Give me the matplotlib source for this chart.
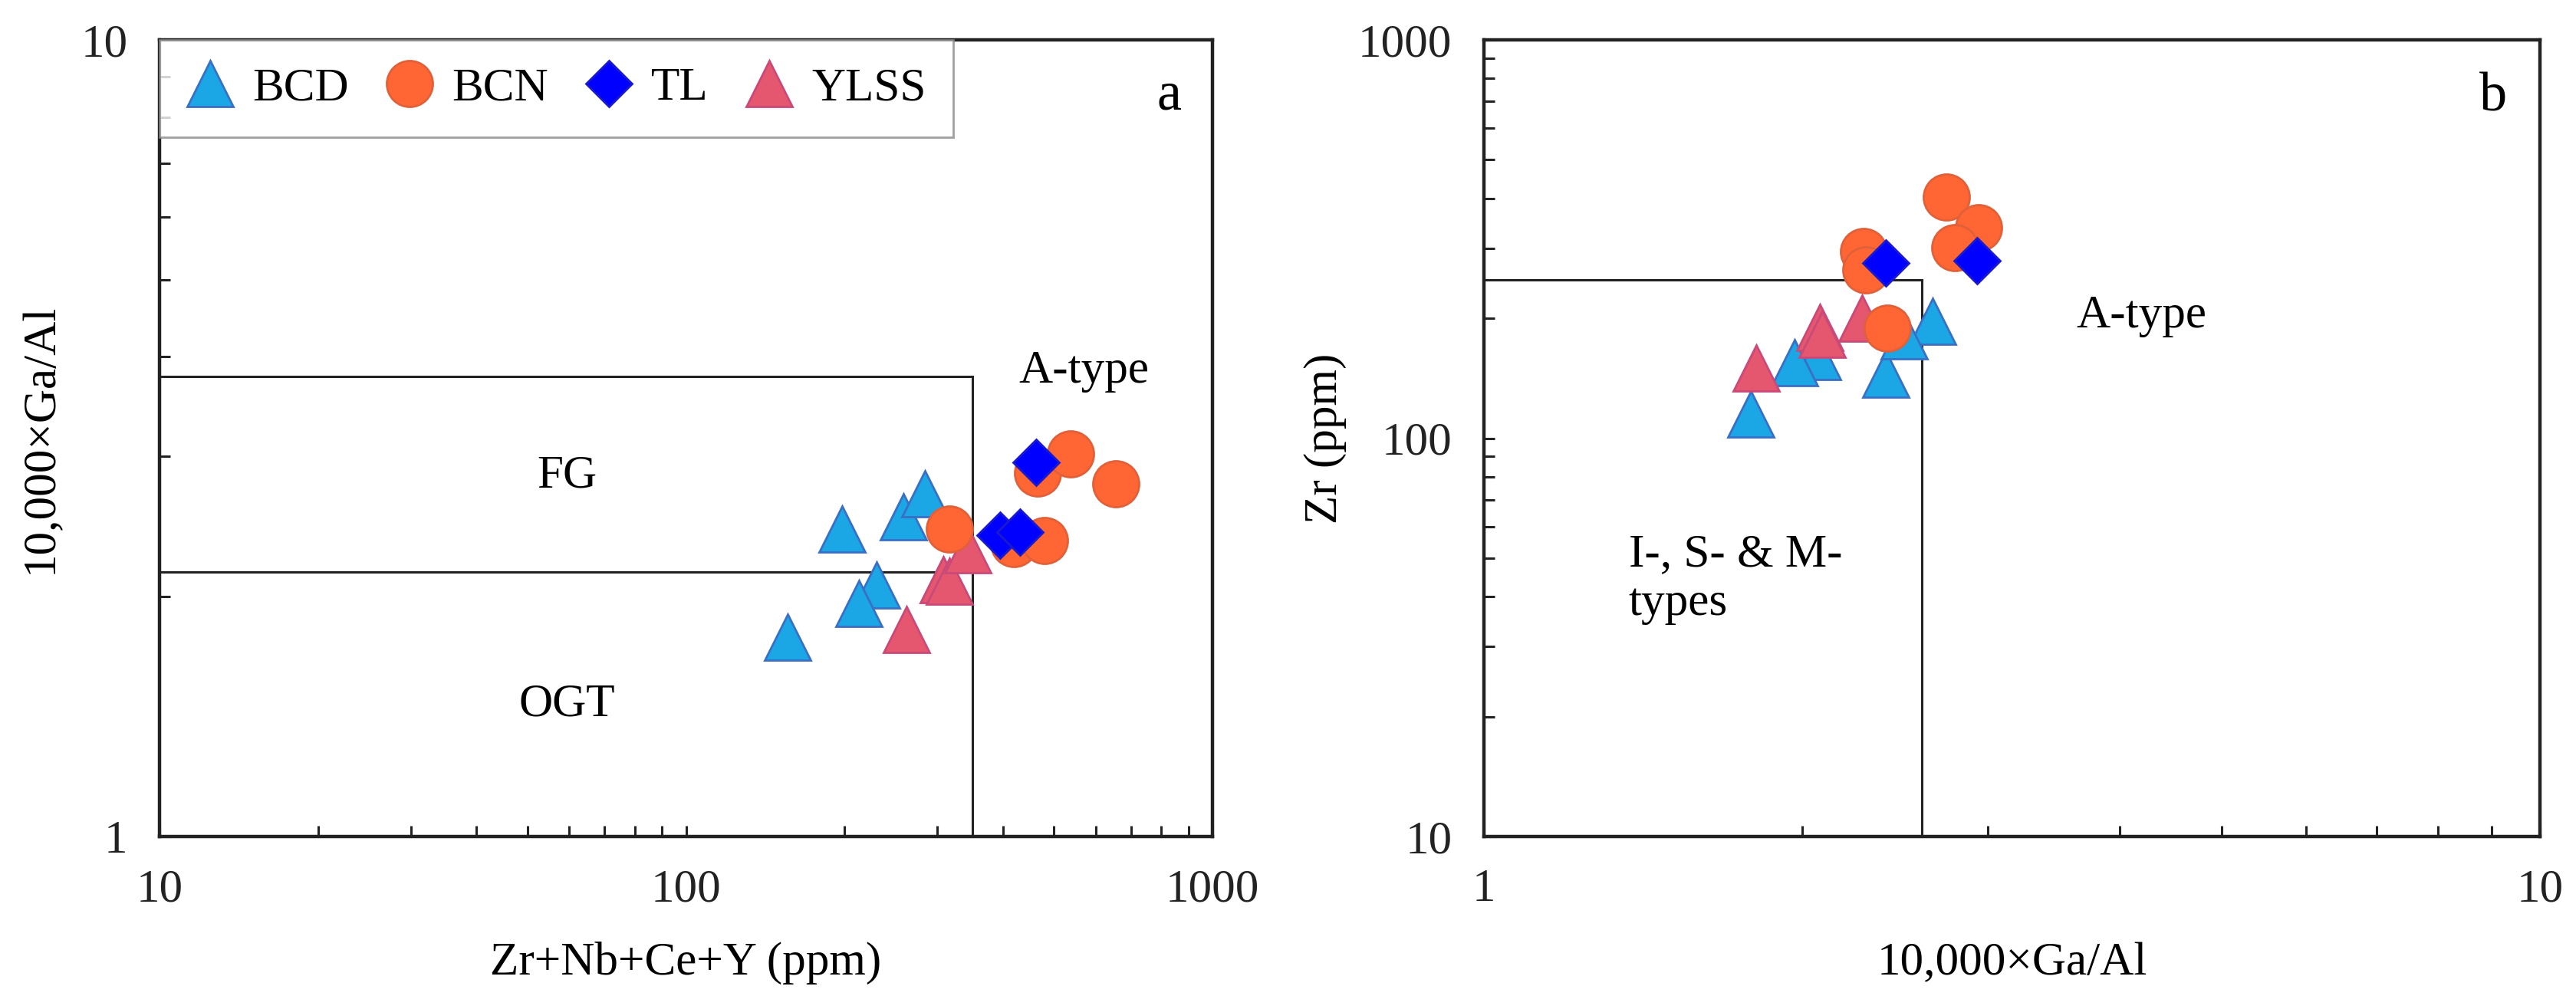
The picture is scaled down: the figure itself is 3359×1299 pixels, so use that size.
import matplotlib
matplotlib.use("Agg")
import matplotlib.pyplot as plt
from matplotlib.ticker import LogLocator, NullFormatter, FixedLocator, FixedFormatter
from matplotlib.lines import Line2D

plt.rcParams['font.family'] = ['Liberation Serif', 'DejaVu Serif']

# ---------------- data: panel a (Zr+Nb+Ce+Y vs 10000Ga/Al) ----------------
a_bcd_x = [198, 259, 284, 230, 213, 156]
a_bcd_y = [2.43, 2.52, 2.69, 2.07, 1.96, 1.78]
a_ylss_x = [262, 308, 316, 343]
a_ylss_y = [1.82, 2.10, 2.09, 2.29]
a_bcn_x = [317, 466, 538, 655, 420, 480]
a_bcn_y = [2.43, 2.86, 3.02, 2.77, 2.33, 2.35]
a_tl_x = [462, 395, 431]
a_tl_y = [2.95, 2.39, 2.41]

# field boundaries panel a
a_vline_x = [350, 350]
a_vline_y = [1, 3.78]
a_hline_x = [10, 350]
a_hline_top = [3.78, 3.78]
a_hline_low = [2.15, 2.15]

# ---------------- data: panel b (10000Ga/Al vs Zr) ----------------
b_bcd_x = [2.66, 2.40, 2.50, 2.07, 1.97, 1.79]
b_bcd_y = [197, 145, 181, 160, 155, 115]
b_ylss_x = [2.08, 2.09, 2.28, 1.81]
b_ylss_y = [190, 182, 200, 150]
b_bcn_x = [2.74, 2.94, 2.79, 2.29, 2.30, 2.41]
b_bcn_y = [403, 338, 301, 294, 265, 189]
b_tl_x = [2.40, 2.93]
b_tl_y = [275, 279]

b_vline_x = [2.6, 2.6]
b_vline_y = [10, 250]
b_hline_x = [1, 2.6]
b_hline_y = [250, 250]

series_names = ["BCD", "BCN", "TL", "YLSS"]

# styles
C_BCD = dict(marker='^', ms=21.6, mfc='#1BA6E6', mec='#3A6FC4', mew=1.0, ls='none')
C_YLSS = dict(marker='^', ms=21.6, mfc='#E5566F', mec='#C94A78', mew=1.0, ls='none')
C_BCN = dict(marker='o', ms=21.6, mfc='#FF6633', mec='#E0603A', mew=1.0, ls='none')
C_TL = dict(marker='D', ms=15.3, mfc='#0000FF', mec='#1A1ACC', mew=1.0, ls='none')

W, H = 3359, 1299
fig = plt.figure(figsize=(W / 200, H / 200), dpi=200)

axa = fig.add_axes([208 / W, (H - 1091) / H, 1373 / W, 1039 / H])
axb = fig.add_axes([1935 / W, (H - 1091) / H, 1377 / W, 1039 / H])

FS = 22
for ax in (axa, axb):
    ax.set_xscale('log')
    ax.set_yscale('log')
    for s in ax.spines.values():
        s.set_linewidth(1.6)
        s.set_color('#222222')
    ax.tick_params(which='both', direction='in', top=False, right=False,
                   length=5, width=1.1, pad=15, labelsize=FS, colors='#222222')
    ax.xaxis.set_minor_locator(LogLocator(base=10, subs=range(2, 10)))
    ax.yaxis.set_minor_locator(LogLocator(base=10, subs=range(2, 10)))
    ax.xaxis.set_minor_formatter(NullFormatter())
    ax.yaxis.set_minor_formatter(NullFormatter())

# ---- panel a ----
axa.set_xlim(10, 1000)
axa.set_ylim(1, 10)
axa.xaxis.set_major_locator(FixedLocator([10, 100, 1000]))
axa.xaxis.set_major_formatter(FixedFormatter(['10', '100', '1000']))
axa.yaxis.set_major_locator(FixedLocator([1, 10]))
axa.yaxis.set_major_formatter(FixedFormatter(['1', '10']))

lw_b = 1.1
axa.plot(a_vline_x, a_vline_y, color='#222222', lw=lw_b, zorder=1)
axa.plot(a_hline_x, a_hline_top, color='#222222', lw=lw_b, zorder=1)
axa.plot(a_hline_x, a_hline_low, color='#222222', lw=lw_b, zorder=1)

axa.plot(a_bcd_x, a_bcd_y, zorder=3, **C_BCD)
axa.plot(a_ylss_x, a_ylss_y, zorder=4, **C_YLSS)
axa.plot(a_bcn_x, a_bcn_y, zorder=5, **C_BCN)
axa.plot(a_tl_x, a_tl_y, zorder=6, **C_TL)

axa.text(0.8777, 0.584, 'A-type', transform=axa.transAxes, ha='center', va='center', fontsize=FS)
axa.text(0.3867, 0.453, 'FG', transform=axa.transAxes, ha='center', va='center', fontsize=FS)
axa.text(0.3867, 0.1655, 'OGT', transform=axa.transAxes, ha='center', va='center', fontsize=FS)
axa.text(0.9585, 0.93, 'a', transform=axa.transAxes, ha='center', va='center', fontsize=FS + 4)

axa.text(0.5, -0.159, 'Zr+Nb+Ce+Y (ppm)', transform=axa.transAxes, ha='center', va='center', fontsize=FS)
axa.text(-0.113, 0.5, '10,000×Ga/Al', transform=axa.transAxes, ha='center', va='center',
         rotation=90, fontsize=FS)

handles = [Line2D([], [], **C_BCD), Line2D([], [], **C_BCN),
           Line2D([], [], **C_TL), Line2D([], [], **C_YLSS)]
leg = axa.legend(handles, series_names, ncol=4, loc='upper left', bbox_to_anchor=(0, 1),
                 borderaxespad=0, frameon=True, fancybox=False, edgecolor='#888888',
                 fontsize=FS, handletextpad=0.4, columnspacing=0.8, borderpad=0.58,
                 handlelength=1.0)
leg.get_frame().set_linewidth(1.0)

# ---- panel b ----
axb.set_xlim(1, 10)
axb.set_ylim(10, 1000)
axb.xaxis.set_major_locator(FixedLocator([1, 10]))
axb.xaxis.set_major_formatter(FixedFormatter(['1', '10']))
axb.yaxis.set_major_locator(FixedLocator([10, 100, 1000]))
axb.yaxis.set_major_formatter(FixedFormatter(['10', '100', '1000']))

axb.plot(b_vline_x, b_vline_y, color='#222222', lw=lw_b, zorder=1)
axb.plot(b_hline_x, b_hline_y, color='#222222', lw=lw_b, zorder=1)

axb.plot(b_bcd_x, b_bcd_y, zorder=3, **C_BCD)
axb.plot(b_ylss_x, b_ylss_y, zorder=4, **C_YLSS)
axb.plot(b_bcn_x, b_bcn_y, zorder=5, **C_BCN)
axb.plot(b_tl_x, b_tl_y, zorder=6, **C_TL)

axb.text(0.623, 0.6535, 'A-type', transform=axb.transAxes, ha='center', va='center', fontsize=FS)
axb.text(0.137, 0.354, 'I-, S- & M-', transform=axb.transAxes, ha='left', va='center', fontsize=FS)
axb.text(0.137, 0.2926, 'types', transform=axb.transAxes, ha='left', va='center', fontsize=FS)
axb.text(0.956, 0.928, 'b', transform=axb.transAxes, ha='center', va='center', fontsize=FS + 4)

axb.text(0.5, -0.159, '10,000×Ga/Al', transform=axb.transAxes, ha='center', va='center', fontsize=FS)
axb.text(-0.150, 0.5, 'Zr (ppm)', transform=axb.transAxes, ha='center', va='center',
         rotation=90, fontsize=FS)

fig.savefig('out.png', dpi=200)
